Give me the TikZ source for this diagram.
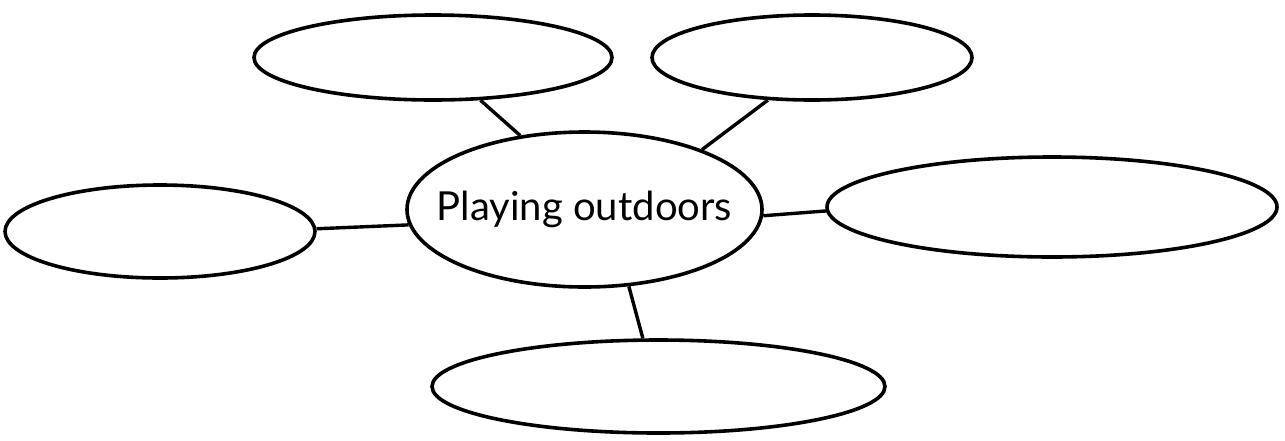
\documentclass[tikz,border=0pt]{standalone}
\usepackage{fontspec}
\setmainfont{Lato}
\usetikzlibrary{shapes.geometric}
\begin{document}
\begin{tikzpicture}[x=1pt,y=-1pt,
  bubble/.style={draw=black, line width=3.6pt, ellipse, inner sep=0pt, fill=white},
  link/.style={draw=black, line width=3.4pt},
  caption/.style={inner sep=0pt, font=\fontsize{40}{40}\selectfont}]
\useasboundingbox (0,0) rectangle (1285,440);
\node[bubble, minimum width=355pt, minimum height=155pt] (c) at (584.5,209.5) {};
\node[caption] (t) at (c.center) {Playing outdoors};
\node[bubble, minimum width=358pt, minimum height=85pt] (tl) at (433,57.5) {};
\node[bubble, minimum width=320pt, minimum height=85pt] (tr) at (812,57.5) {};
\node[bubble, minimum width=310pt, minimum height=93pt] (l) at (160,231.5) {};
\node[bubble, minimum width=450pt, minimum height=100pt] (r) at (1052,207) {};
\node[bubble, minimum width=453pt, minimum height=93pt] (b) at (658.5,386.5) {};
\draw[link] (tl.-42.5) -- (c.131.7);
\draw[link] (tr.-136.6) -- (c.27.5);
\draw[link] (l.1.5) -- (c.-175.5);
\draw[link] (c.-2.2) -- (r.181);
\draw[link] (c.-60) -- (b.108.4);
\end{tikzpicture}
\end{document}
